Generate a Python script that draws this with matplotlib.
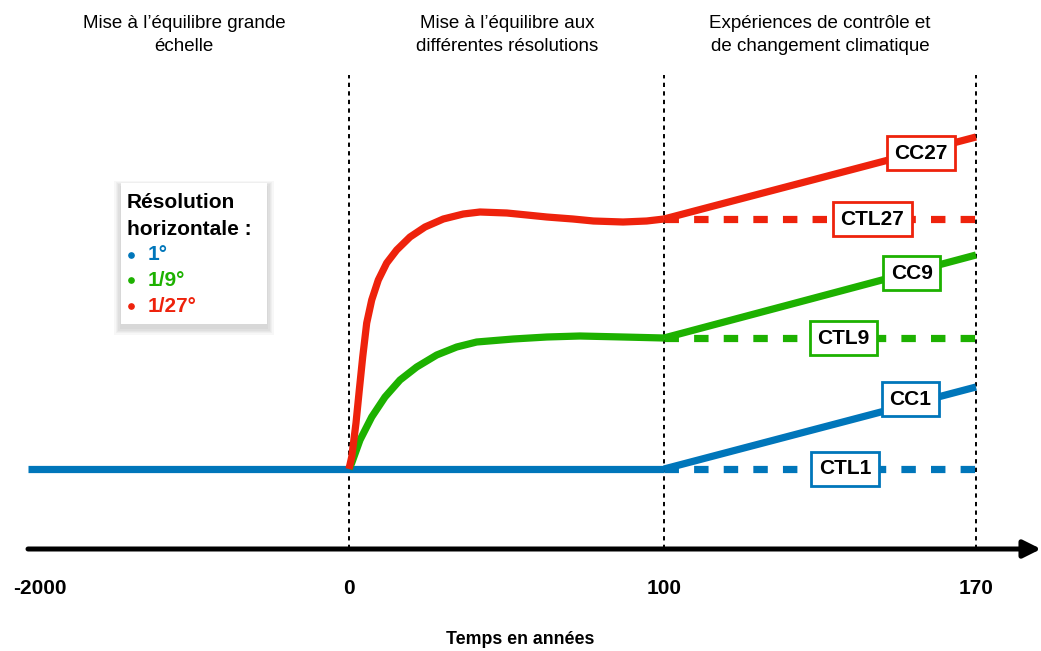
import numpy as np
import matplotlib
matplotlib.use("Agg")
import matplotlib.pyplot as plt
from matplotlib.patches import FancyBboxPatch

plt.rcParams['font.family'] = ['Liberation Sans', 'DejaVu Sans']

# couleurs (résolutions)
BLEU = '#0076BA'
VERT = '#1DB100'
ROUGE = '#EE220C'

# ticks de l'axe du temps
ticks = [-2000, 0, 100, 170]
tick_labels = ['-2000', '0', '100', '170']

# spin-up grande echelle (1°)
t_spinup = [-2000, 0, 100]
y_spinup = [0.0, 0.0, 0.0]

# mise a l'equilibre 1/9°
t_9 = [0, 0.86, 3.49, 7.21, 11.43, 16.19, 21.49, 27.84, 34.19, 40.54,
       52.1, 62.8, 73.3, 87.0, 100]
y_9 = [0.0, 0.06, 0.29, 0.52, 0.72, 0.89, 1.02, 1.14, 1.22, 1.27,
       1.30, 1.32, 1.33, 1.32, 1.31]

# mise a l'equilibre 1/27°
t_27 = [0, 0.86, 2.22, 3.27, 4.35, 5.62, 7.21, 9.30, 11.97, 15.14, 19.37,
        24.13, 29.94, 36.29, 41.59, 50.1, 56.5, 62.8, 71.1, 77.6, 87.0, 94.5, 100]
y_27 = [0.0, 0.12, 0.46, 0.79, 1.12, 1.46, 1.69, 1.89, 2.06, 2.19, 2.32,
        2.42, 2.50, 2.55, 2.57, 2.56, 2.54, 2.52, 2.50, 2.48, 2.47, 2.48, 2.50]

# experiences (debut 100 ans, fin 170 ans)
t_exp = [100, 170]
cc1 = [0.0, 0.82]
ctl1 = [0.0, 0.0]
cc9 = [1.31, 2.14]
ctl9 = [1.31, 1.31]
cc27 = [2.50, 3.32]
ctl27 = [2.50, 2.50]


def fwd(t):
    t = np.asarray(t, dtype=float)
    return np.where(t < 0, t * 321 / 2000,
                    np.where(t <= 100, t * 3.15, 315 + (t - 100) * 312 / 70))


def inv(u):
    u = np.asarray(u, dtype=float)
    return np.where(u < 0, u * 2000 / 321,
                    np.where(u <= 315, u / 3.15, 100 + (u - 315) * 70 / 312))


fig = plt.figure(figsize=(10.41, 6.51), dpi=100)
ax = fig.add_axes([0, 0, 1, 1])
ax.set_xscale('function', functions=(fwd, inv))
ax.set_xlim(float(inv(-349)), float(inv(692)))
ax.set_ylim(-1.82, 4.69)
ax.axis('off')

lw = 5.2
# lignes pointillées verticales
for t in ticks[1:]:
    ax.plot([t, t], [-0.80, 3.94], color='black', lw=1.4, ls=(0, (2.2, 2.2)), zorder=1)

kw = dict(lw=lw, solid_capstyle='butt', solid_joinstyle='round')
ax.plot(t_spinup, y_spinup, color=BLEU, zorder=3, **kw)
ax.plot(t_9, y_9, color=VERT, zorder=4, **kw)
ax.plot(t_27, y_27, color=ROUGE, zorder=4, **kw)

dash = (0, (2.0, 2.1))
ax.plot(t_exp, cc1, color=BLEU, zorder=3, **kw)
ax.plot(t_exp, ctl1, color=BLEU, lw=lw, ls=dash, dash_capstyle='butt', zorder=3)
ax.plot(t_exp, cc9, color=VERT, zorder=3, **kw)
ax.plot(t_exp, ctl9, color=VERT, lw=lw, ls=dash, dash_capstyle='butt', zorder=3)
ax.plot(t_exp, cc27, color=ROUGE, zorder=3, **kw)
ax.plot(t_exp, ctl27, color=ROUGE, lw=lw, ls=dash, dash_capstyle='butt', zorder=3)

# axe du temps
ax.annotate('', xy=(float(inv(692)), -0.80), xytext=(-2000, -0.80),
            arrowprops=dict(arrowstyle='-|>', color='black', lw=3.6,
                            mutation_scale=26, shrinkA=0, shrinkB=0), zorder=5)
for t, lab in zip(ticks, tick_labels):
    xt = t if t != -2000 else float(inv(-309.5))
    ax.text(xt, -1.20, lab, ha='center', va='center', fontsize=15, fontweight='bold')
ax.text(0.5, 1 - 640 / 651, 'Temps en années', transform=ax.transAxes,
        ha='center', va='center', fontsize=12.8, fontweight='bold')

# titres des phases
phases = ['Mise à l\u2019équilibre grande\néchelle',
          'Mise à l\u2019équilibre aux\ndifférentes résolutions',
          'Expériences de contrôle et\nde changement climatique']
phase_x = [184, 507, 820]
for px, txt in zip(phase_x, phases):
    ax.text(px / 1041, 1 - 35 / 651, txt, transform=ax.transAxes, ha='center',
            va='center', fontsize=13.5, linespacing=1.5)

# etiquettes des experiences
etiquettes = [('CC27', 157.7, 3.16, ROUGE), ('CTL27', 146.7, 2.50, ROUGE),
              ('CC9', 155.6, 1.96, VERT), ('CTL9', 140.2, 1.31, VERT),
              ('CC1', 155.2, 0.70, BLEU), ('CTL1', 140.6, 0.0, BLEU)]
for lab, t, y, c in etiquettes:
    ax.text(t, y, lab, ha='center', va='center', fontsize=15, fontweight='bold',
            zorder=6, bbox=dict(boxstyle='square,pad=0.36', fc='white', ec=c, lw=2))

# legende (avec ombre douce)
x0, y0, w, h = 121 / 1041, 1 - 324 / 651, 146 / 1041, 141 / 651
for k in range(5, 0, -1):
    ex, ey = k * 1.3 / 1041, k * 1.3 / 651
    ax.add_patch(FancyBboxPatch((x0 - ex, y0 - ey - 4 / 651), w + 2 * ex, h + 2 * ey,
                                boxstyle='square,pad=0', transform=ax.transAxes,
                                fc='black', ec='none', alpha=0.03, zorder=6))
box = FancyBboxPatch((x0, y0), w, h, boxstyle='square,pad=0', transform=ax.transAxes,
                     fc='white', ec='none', zorder=7)
ax.add_patch(box)
lx = 127 / 1041
ax.text(lx, 1 - 203 / 651, 'Résolution', transform=ax.transAxes, va='center',
        fontsize=15, fontweight='bold', zorder=8)
ax.text(lx, 1 - 229 / 651, 'horizontale :', transform=ax.transAxes, va='center',
        fontsize=15, fontweight='bold', zorder=8)
for py, lab, c in [(255, '1°', BLEU), (280, '1/9°', VERT), (306, '1/27°', ROUGE)]:
    ax.plot([131 / 1041], [1 - py / 651], 'o', ms=3.8, color=c,
            transform=ax.transAxes, zorder=8)
    ax.text(148 / 1041, 1 - py / 651, lab, transform=ax.transAxes, va='center',
            fontsize=15, fontweight='bold', color=c, zorder=8)

fig.savefig('out.png', dpi=100)
